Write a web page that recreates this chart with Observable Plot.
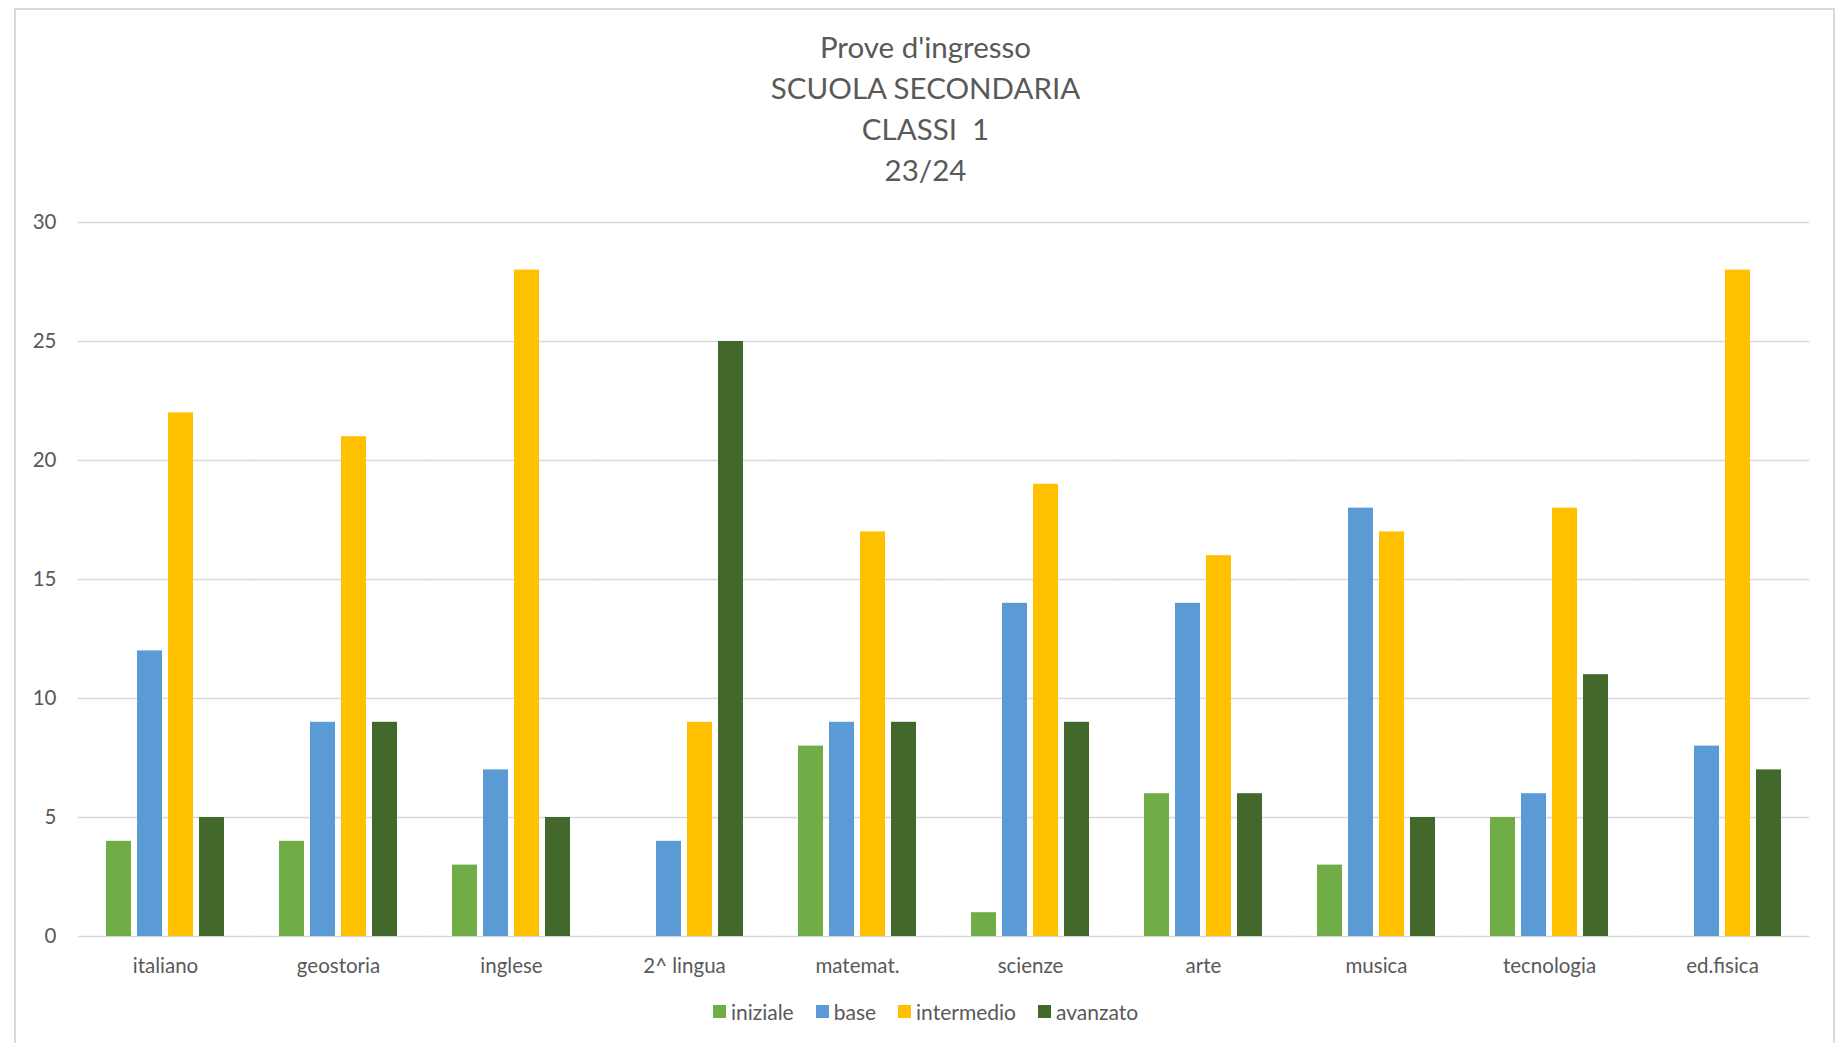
<!DOCTYPE html>
<html>
<head>
<meta charset="utf-8">
<script src="https://cdn.jsdelivr.net/npm/d3@7"></script>
<script src="https://cdn.jsdelivr.net/npm/@observablehq/plot@0.6"></script>
<style>
  html, body { margin: 0; padding: 0; background: #fff; }
  body { width: 1845px; height: 1043px; position: relative; overflow: hidden; font-family: Lato, "Open Sans", sans-serif; color: #595959; }
  #frame { position: absolute; left: 14px; top: 8px; width: 1821px; height: 1100px; border: 2px solid #d9d9d9; box-sizing: border-box; }
  #title { position: absolute; left: 14px; width: 1823px; top: 26px; text-align: center; font-size: 29.5px; line-height: 41px; color: #595959; }
  #chart { position: absolute; left: 0; top: 200px; }
  #legend { position: absolute; left: 14px; width: 1823px; top: 999px; display: flex; justify-content: center; align-items: center; font-size: 21px; color: #595959; }
  .item { display: flex; align-items: center; margin: 0 11px; }
  .sw { width: 13px; height: 13px; margin-right: 5px; }
</style>
</head>
<body>
<div id="frame"></div>
<div id="title">Prove d'ingresso<br>SCUOLA SECONDARIA<br>CLASSI&nbsp; 1<br>23/24</div>
<div id="chart"></div>
<div id="legend"></div>
<script>
const categories = ["italiano", "geostoria", "inglese", "2^ lingua", "matemat.", "scienze", "arte", "musica", "tecnologia", "ed.fisica"];
const seriesNames = ["iniziale", "base", "intermedio", "avanzato"];
const iniziale   = [4, 4, 3, 0, 8, 1, 6, 3, 5, 0];
const base       = [12, 9, 7, 4, 9, 14, 14, 18, 6, 8];
const intermedio = [22, 21, 28, 9, 17, 19, 16, 17, 18, 28];
const avanzato   = [5, 9, 5, 25, 9, 9, 6, 5, 11, 7];
const colors = ["#70AD47", "#5B9BD5", "#FFC000", "#43682B"];
const yTicks = [0, 5, 10, 15, 20, 25, 30];

const seriesValues = [iniziale, base, intermedio, avanzato];
const table = [];
categories.forEach((c, i) => {
  seriesNames.forEach((s, j) => table.push({cat: c, series: s, value: seriesValues[j][i]}));
});

const width = 1845;
const marginLeft = 75, marginRight = 34;
const fxPadding = 0.32;
const step = (width - marginLeft - marginRight) / categories.length;
const outerGap = (fxPadding / 2) * step;
const gridInset = -outerGap - 0.5;

const chart = Plot.plot({
  width,
  height: 786,
  marginLeft, marginRight,
  marginTop: 22,
  marginBottom: 50,
  style: {fontFamily: "Lato, 'Open Sans', sans-serif", fontSize: "20.5px", color: "#595959", background: "transparent"},
  fx: {domain: categories, paddingInner: fxPadding, paddingOuter: fxPadding / 2, axis: "bottom", label: null, tickSize: 0, tickPadding: 22},
  x: {domain: seriesNames, paddingInner: 0.2, paddingOuter: 0, axis: null},
  y: {domain: [0, 30], ticks: yTicks, tickSize: 0, tickPadding: Math.round(22 + outerGap), label: null},
  color: {domain: seriesNames, range: colors},
  facet: {data: table, x: "cat"},
  marks: [
    Plot.ruleY(yTicks, {stroke: "#d9d9d9", strokeWidth: 1.4, insetLeft: gridInset, insetRight: gridInset, facet: false}),
    Plot.barY(table, {fx: "cat", x: "series", y: "value", fill: "series"})
  ]
});
document.getElementById("chart").appendChild(chart);

const legend = document.getElementById("legend");
seriesNames.forEach((s, j) => {
  const it = document.createElement("div");
  it.className = "item";
  const sw = document.createElement("div");
  sw.className = "sw";
  sw.style.background = colors[j];
  const tx = document.createElement("span");
  tx.textContent = s;
  it.appendChild(sw); it.appendChild(tx);
  legend.appendChild(it);
});
</script>
</body>
</html>
